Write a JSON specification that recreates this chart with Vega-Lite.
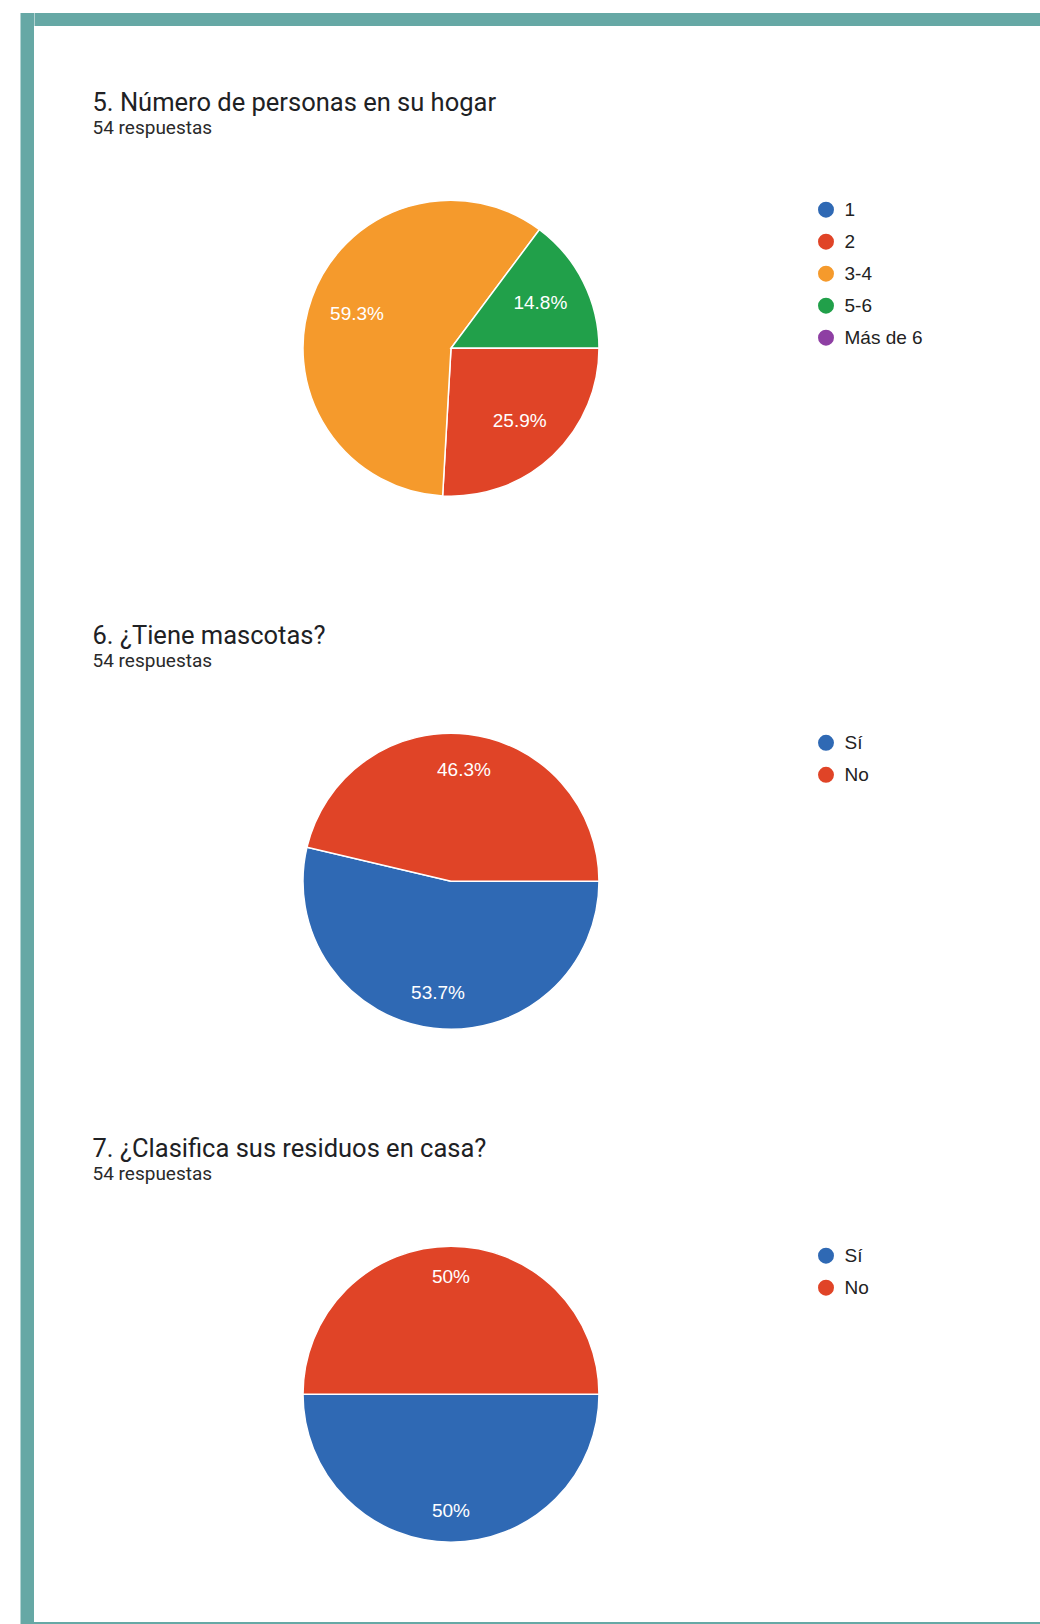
{
  "$schema": "https://vega.github.io/schema/vega-lite/v6.json",
  "background": "white",
  "padding": {"left": 20.5, "top": 13, "right": 0, "bottom": 0},
  "config": {
    "view": {"stroke": null},
    "title": {"font": "Roboto", "fontSize": 25.5, "fontWeight": 400, "color": "#202124", "subtitleFont": "Roboto", "subtitleFontSize": 19, "subtitleColor": "#2a2a2a", "subtitlePadding": 3, "anchor": "start", "offset": 59},
    "legend": {"orient": "right", "offset": 6.5, "title": null, "symbolType": "circle", "symbolSize": 254, "symbolStrokeWidth": 0, "labelFont": "Liberation Sans", "labelFontSize": 19, "labelColor": "#222222", "labelOffset": 9, "rowPadding": 12, "padding": 0}
  },
  "spacing": 0,
  "resolve": {"scale": {"color": "independent", "theta": "independent"}},
  "vconcat": [
    {
      "spacing": 0,
      "resolve": {"scale": {"color": "independent", "theta": "independent"}},
      "hconcat": [
        {
          "width": 13.5,
          "height": 1609,
          "data": {"values": [{"part": "frame"}]},
          "mark": {"type": "rect", "color": "#66a8a5"},
          "encoding": {}
        },
        {
          "spacing": 64.2,
          "resolve": {"scale": {"color": "independent", "theta": "independent"}},
          "vconcat": [
            {
              "width": 1006,
              "height": 13,
              "data": {"values": [{"part": "frame"}]},
              "mark": {"type": "rect", "color": "#66a8a5"},
              "encoding": {}
            },
            {
              "spacing": 57,
              "resolve": {"scale": {"color": "independent", "theta": "independent"}},
              "hconcat": [
                {
                  "width": 1,
                  "height": 1,
                  "data": {"values": [{"part": "spacer"}]},
                  "mark": {"type": "rect", "opacity": 0},
                  "encoding": {}
                },
                {
                  "spacing": 124.1,
                  "resolve": {"scale": {"color": "independent", "theta": "independent"}},
                  "vconcat": [
                    {
                      "title": {"text": "5. Número de personas en su hogar", "subtitle": "54 respuestas"},
                      "width": 717,
                      "height": 296,
                      "data": {"values": [
                        {"answer": "1", "idx": 0, "share": 0},
                        {"answer": "2", "idx": 1, "share": 0.259},
                        {"answer": "3-4", "idx": 2, "share": 0.593},
                        {"answer": "5-6", "idx": 3, "share": 0.148},
                        {"answer": "Más de 6", "idx": 4, "share": 0}
                      ]},
                      "encoding": {
                        "theta": {"field": "share", "type": "quantitative", "stack": true, "scale": {"domain": [0, 1], "range": [1.5707963, 7.8539816]}},
                        "order": {"field": "idx", "type": "quantitative"},
                        "color": {"field": "answer", "type": "nominal", "scale": {"domain": ["1", "2", "3-4", "5-6", "Más de 6"], "range": ["#2f69b4", "#e04427", "#f59a2c", "#21a04a", "#8e3fa3"]}}
                      },
                      "layer": [
                        {"mark": {"type": "arc", "outerRadius": 148, "stroke": "white", "strokeWidth": 1.5}},
                        {"transform": [{"filter": "datum.share > 0"}], "mark": {"type": "text", "radius": 100, "fill": "white", "font": "Liberation Sans", "fontSize": 19, "align": "center", "baseline": "middle"}, "encoding": {"text": {"field": "share", "type": "quantitative", "format": ".1~%"}, "color": {"value": "white"}}}
                      ]
                    },
                    {
                      "spacing": 103.9,
                      "resolve": {"scale": {"color": "independent", "theta": "independent"}},
                      "vconcat": [
                        {
                          "title": {"text": "6. ¿Tiene mascotas?", "subtitle": "54 respuestas"},
                          "width": 717,
                          "height": 296,
                          "data": {"values": [
                            {"answer": "Sí", "idx": 0, "share": 0.537},
                            {"answer": "No", "idx": 1, "share": 0.463}
                          ]},
                          "encoding": {
                            "theta": {"field": "share", "type": "quantitative", "stack": true, "scale": {"domain": [0, 1], "range": [1.5707963, 7.8539816]}},
                            "order": {"field": "idx", "type": "quantitative"},
                            "color": {"field": "answer", "type": "nominal", "scale": {"domain": ["Sí", "No"], "range": ["#2f69b4", "#e04427"]}}
                          },
                          "layer": [
                            {"mark": {"type": "arc", "outerRadius": 148, "stroke": "white", "strokeWidth": 1.5}},
                            {"mark": {"type": "text", "radius": 112, "fill": "white", "font": "Liberation Sans", "fontSize": 19, "align": "center", "baseline": "middle"}, "encoding": {"text": {"field": "share", "type": "quantitative", "format": ".1~%"}, "color": {"value": "white"}}}
                          ]
                        },
                        {
                          "title": {"text": "7. ¿Clasifica sus residuos en casa?", "subtitle": "54 respuestas"},
                          "width": 717,
                          "height": 296,
                          "data": {"values": [
                            {"answer": "Sí", "idx": 0, "share": 0.5},
                            {"answer": "No", "idx": 1, "share": 0.5}
                          ]},
                          "encoding": {
                            "theta": {"field": "share", "type": "quantitative", "stack": true, "scale": {"domain": [0, 1], "range": [1.5707963, 7.8539816]}},
                            "order": {"field": "idx", "type": "quantitative"},
                            "color": {"field": "answer", "type": "nominal", "scale": {"domain": ["Sí", "No"], "range": ["#2f69b4", "#e04427"]}}
                          },
                          "layer": [
                            {"mark": {"type": "arc", "outerRadius": 148, "stroke": "white", "strokeWidth": 1.5}},
                            {"mark": {"type": "text", "radius": 117, "fill": "white", "font": "Liberation Sans", "fontSize": 19, "align": "center", "baseline": "middle"}, "encoding": {"text": {"field": "share", "type": "quantitative", "format": ".1~%"}, "color": {"value": "white"}}}
                          ]
                        }
                      ]
                    }
                  ]
                }
              ]
            }
          ]
        }
      ]
    },
    {
      "width": 1019.5,
      "height": 2,
      "data": {"values": [{"part": "frame"}]},
      "mark": {"type": "rect", "color": "#66a8a5"},
      "encoding": {}
    }
  ]
}
